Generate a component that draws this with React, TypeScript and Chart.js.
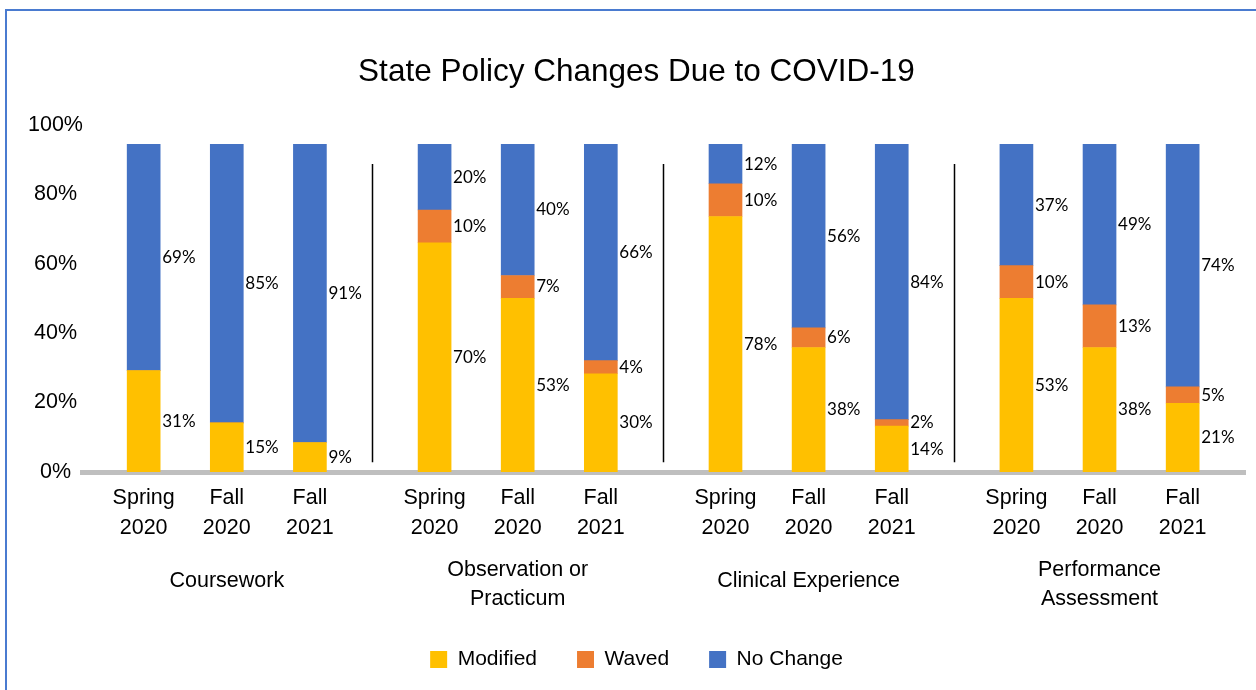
import React, { useEffect, useRef } from 'react';
import { Chart, registerables } from 'chart.js';

Chart.register(...registerables);

// ---- data ----
const GROUP_LABELS: string[][] = [
  ['Coursework'],
  ['Observation or', 'Practicum'],
  ['Clinical Experience'],
  ['Performance', 'Assessment'],
];
const PERIOD_LABELS: string[][] = [
  ['Spring', '2020'],
  ['Fall', '2020'],
  ['Fall', '2021'],
];
const SERIES_NAMES = ['Modified', 'Waved', 'No Change'];
const MODIFIED = [31, 15, 9, 70, 53, 30, 78, 38, 14, 53, 38, 21];
const WAVED = [0, 0, 0, 10, 7, 4, 10, 6, 2, 10, 13, 5];
const NO_CHANGE = [69, 85, 91, 20, 40, 66, 12, 56, 84, 37, 49, 74];
const Y_TICK_LABELS = ['0%', '20%', '40%', '60%', '80%', '100%'];

// ---- layout / style constants ----
const COLORS = ['#FFC000', '#ED7D31', '#4472C4'];
const GROUP_STRIDE = 3.5; // x units between first bars of consecutive groups
const AXIS_TOP = 106; // axis value at which the "100%" tick label sits (as in the reference)
const FONT = "'Liberation Sans', Arial, Helvetica, sans-serif";
const LABEL_FONT = "Lato, 'Open Sans', sans-serif";
const TEXT_SIZE = 21.5;

const BAR_X: number[] = [];
GROUP_LABELS.forEach((_, g) => PERIOD_LABELS.forEach((__, i) => BAR_X.push(g * GROUP_STRIDE + i)));
const BAR_LABELS: string[][] = [];
GROUP_LABELS.forEach(() => PERIOD_LABELS.forEach((p) => BAR_LABELS.push(p)));

const SERIES = [MODIFIED, WAVED, NO_CHANGE];

const annotPlugin = {
  id: 'annot',
  beforeDraw(chart: any) {
    const ctx = chart.ctx;
    ctx.save();
    ctx.strokeStyle = '#4A7BD0';
    ctx.lineWidth = 2;
    ctx.strokeRect(6, 10, chart.width + 50, chart.height + 50);
    ctx.restore();
  },
  afterDatasetsDraw(chart: any) {
    const ctx = chart.ctx;
    const xs = chart.scales.x;
    const ys = chart.scales.y;
    ctx.save();
    // group separators
    ctx.strokeStyle = '#000';
    ctx.lineWidth = 1.5;
    const n = PERIOD_LABELS.length - 1;
    for (let g = 0; g < GROUP_LABELS.length - 1; g++) {
      const px = Math.round(xs.getPixelForValue(g * GROUP_STRIDE + n + (GROUP_STRIDE - n) / 2)) + 0.5;
      ctx.beginPath();
      ctx.moveTo(px, ys.getPixelForValue(94));
      ctx.lineTo(px, ys.getPixelForValue(3));
      ctx.stroke();
    }
    // data labels
    ctx.fillStyle = '#000';
    ctx.font = `17px ${LABEL_FONT}`;
    ctx.textAlign = 'left';
    ctx.textBaseline = 'middle';
    chart.data.datasets.forEach((ds: any, di: number) => {
      const meta = chart.getDatasetMeta(di);
      meta.data.forEach((bar: any, i: number) => {
        const v = ds.data[i].y;
        if (!v) return;
        const p = bar.getProps(['x', 'y', 'base', 'width'], true);
        ctx.fillText(`${v}%`, p.x + p.width / 2 + 2, (p.y + p.base) / 2);
      });
    });
    // group labels
    ctx.font = `${TEXT_SIZE}px ${FONT}`;
    ctx.textAlign = 'center';
    const lineH = 29;
    const centerY = chart.chartArea.bottom + 110;
    GROUP_LABELS.forEach((lines, g) => {
      const cx = xs.getPixelForValue(g * GROUP_STRIDE + n / 2);
      const y0 = centerY - ((lines.length - 1) * lineH) / 2 + (lines.length > 1 ? 3 : -1);
      lines.forEach((t, k) => ctx.fillText(t, cx, y0 + k * lineH));
    });
    ctx.restore();
  },
};

export default function App() {
  const ref = useRef<HTMLCanvasElement | null>(null);
  useEffect(() => {
    if (!ref.current) return;
    const chart = new Chart(ref.current, {
      type: 'bar',
      data: {
        datasets: SERIES.map((vals, si) => ({
          label: SERIES_NAMES[si],
          data: vals.map((v, i) => ({ x: BAR_X[i], y: v })),
          backgroundColor: COLORS[si],
          borderWidth: 0,
          barThickness: 33,
        })),
      },
      options: {
        animation: false,
        responsive: false,
        events: [],
        layout: { padding: { left: 28, right: 11, top: 0, bottom: 10 } },
        plugins: {
          tooltip: { enabled: false },
          title: {
            display: true,
            text: 'State Policy Changes Due to COVID-19',
            color: '#000',
            font: { family: FONT, size: 31.5, weight: 'normal', lineHeight: 1.2 },
            padding: { top: 53, bottom: 34 },
          },
          legend: {
            position: 'bottom',
            labels: {
              color: '#000',
              boxWidth: 17,
              boxHeight: 17,
              padding: 40,
              font: { family: FONT, size: 21 },
            },
          },
        },
        scales: {
          x: {
            type: 'linear',
            offset: false,
            stacked: true,
            min: -0.73,
            max: 13.25,
            grid: { display: false, offset: false },
            border: { display: true, color: '#BFBFBF', width: 5 },
            afterBuildTicks: (scale: any) => {
              scale.ticks = BAR_X.map((v) => ({ value: v }));
            },
            afterFit: (scale: any) => {
              scale.height = 137;
            },
            ticks: {
              autoSkip: false,
              maxRotation: 0,
              color: '#000',
              padding: 3,
              font: { family: FONT, size: TEXT_SIZE, lineHeight: 1.4 },
              callback: (_v: any, i: number) => BAR_LABELS[i],
            },
          },
          y: {
            stacked: true,
            min: 0,
            max: AXIS_TOP,
            grid: { display: false, drawTicks: false },
            border: { display: false },
            afterBuildTicks: (scale: any) => {
              scale.ticks = Y_TICK_LABELS.map((_, k) => ({ value: (k * AXIS_TOP) / (Y_TICK_LABELS.length - 1) }));
            },
            ticks: {
              color: '#000',
              padding: 0,
              crossAlign: 'center',
              font: { family: FONT, size: TEXT_SIZE },
              callback: (_v: any, i: number) => Y_TICK_LABELS[i],
            },
          },
        },
      },
      plugins: [annotPlugin],
    } as any);
    return () => chart.destroy();
  }, []);
  return (
    <div style={{ position: 'absolute', left: 0, top: 0, width: 1256, height: 690, background: '#fff' }}>
      <canvas ref={ref} width={1256} height={690} />
    </div>
  );
}
